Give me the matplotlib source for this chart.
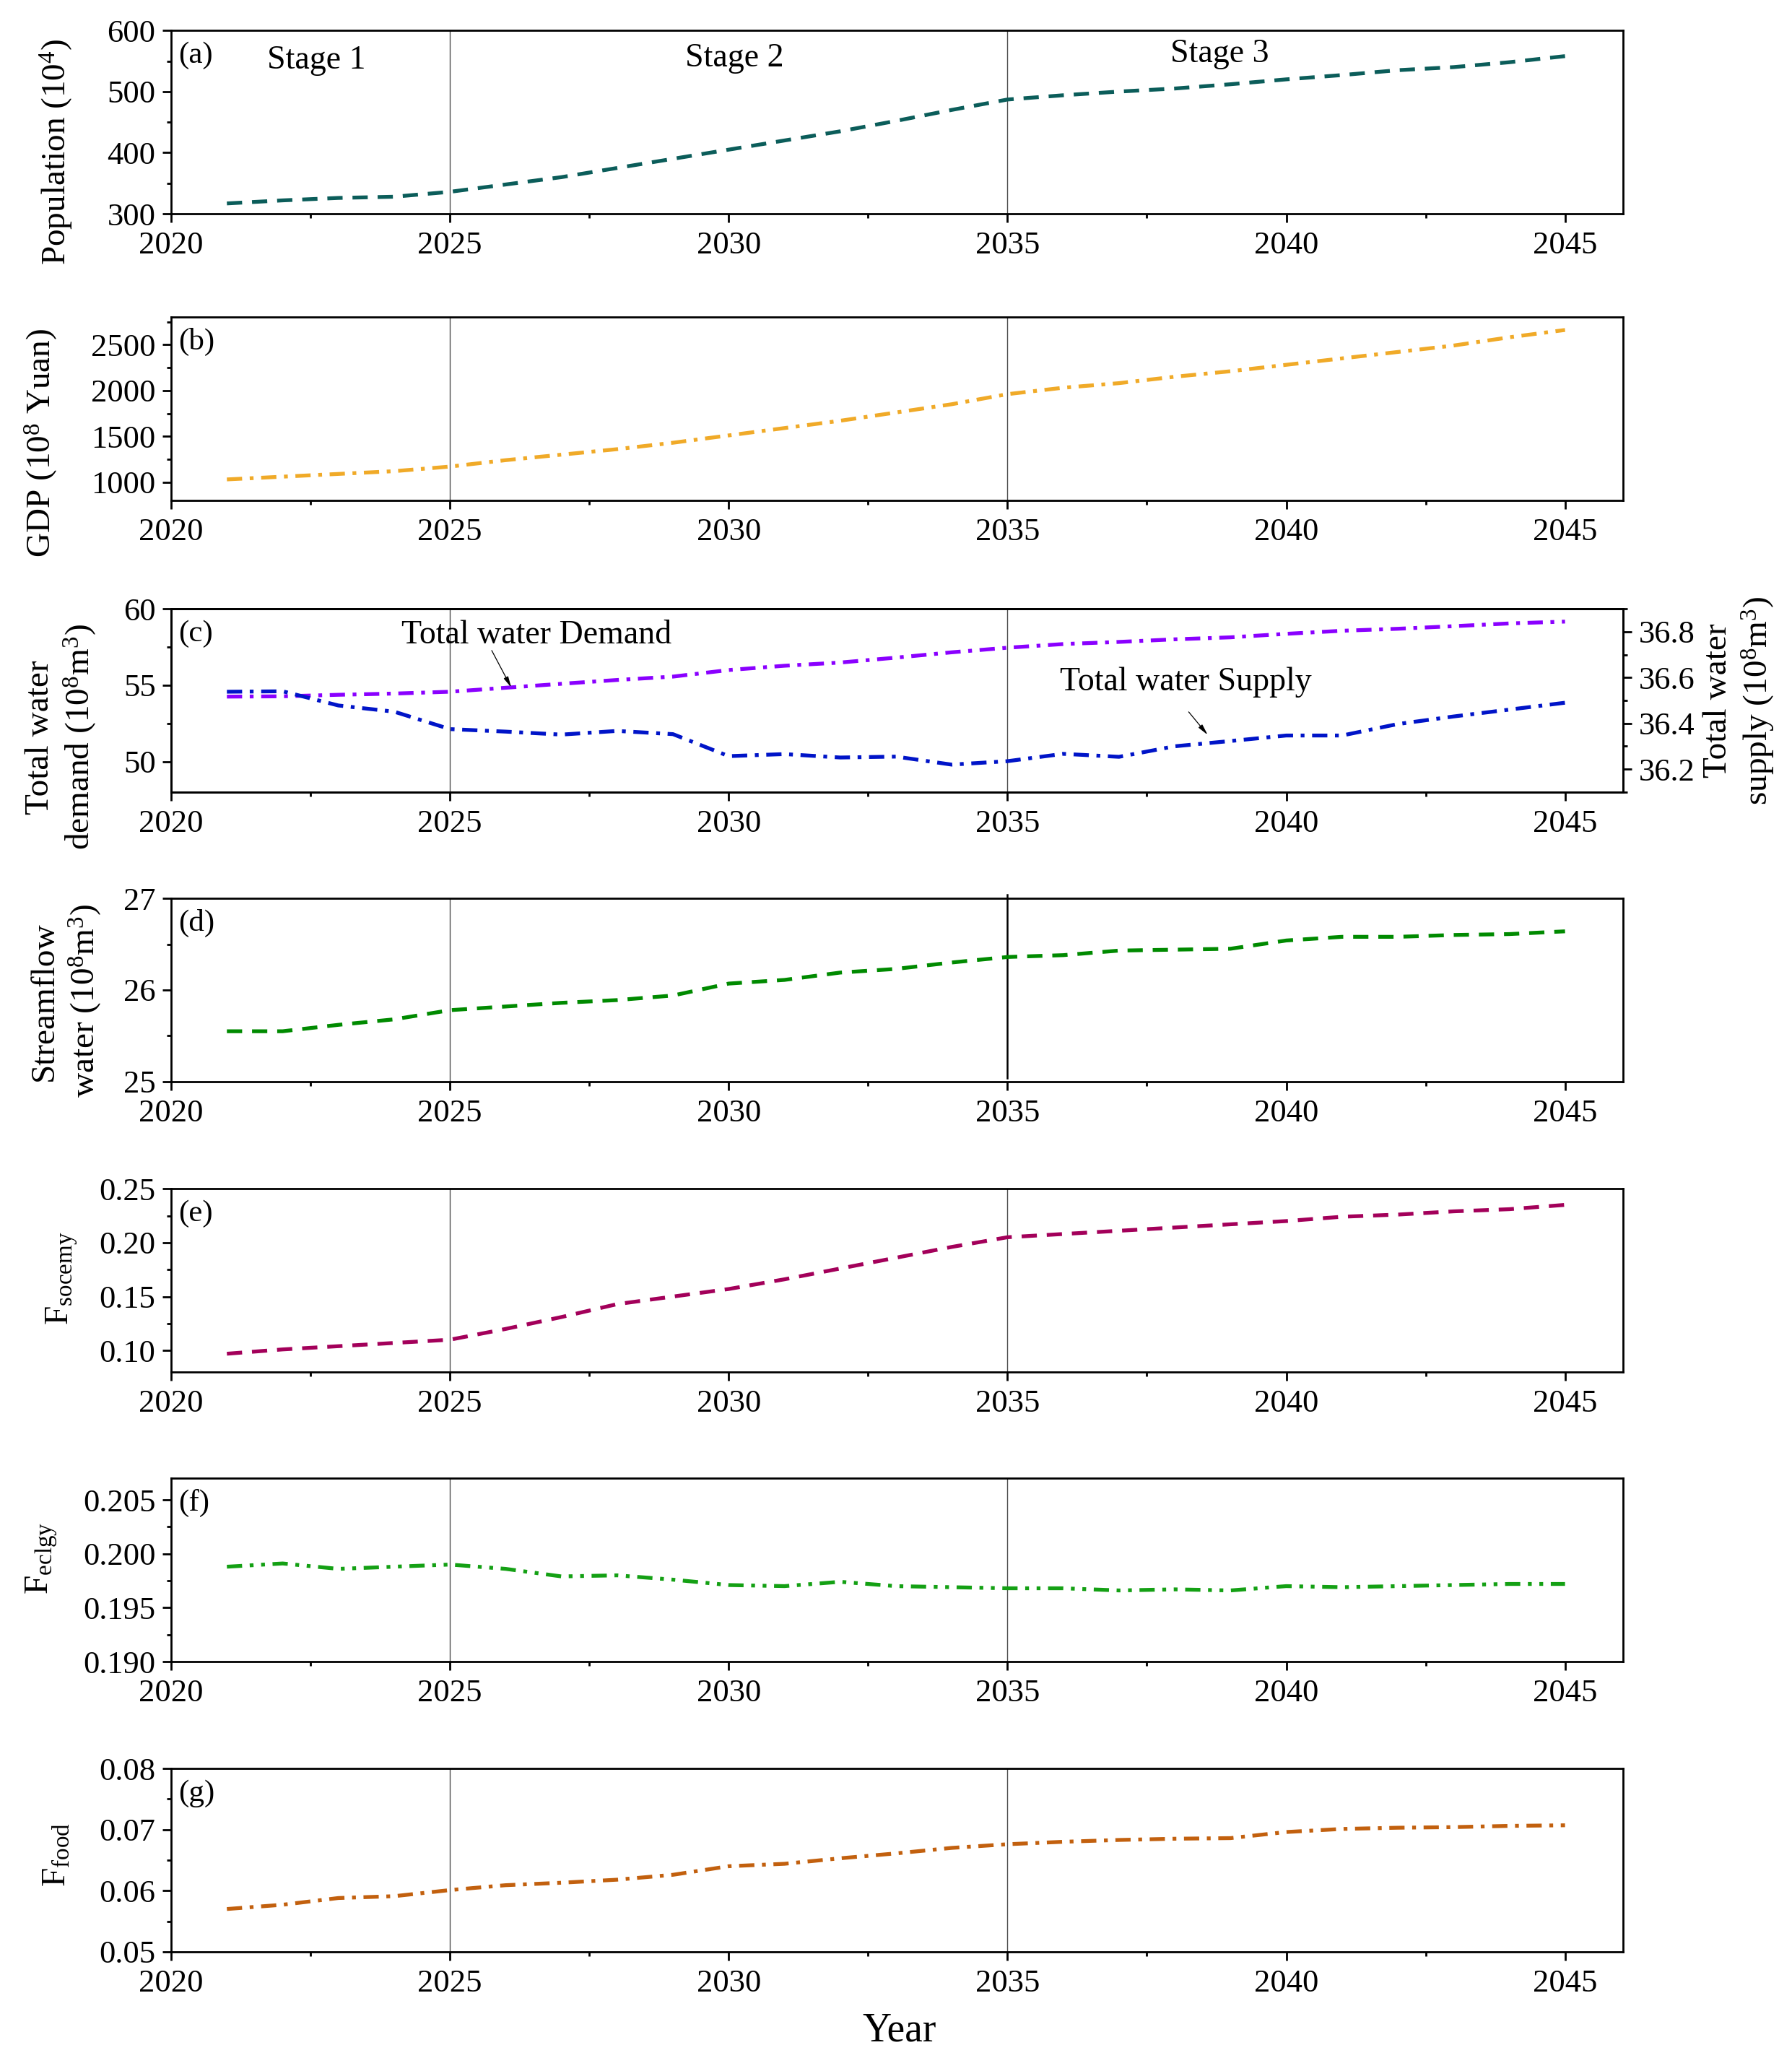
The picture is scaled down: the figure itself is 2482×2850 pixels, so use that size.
import numpy as np
import matplotlib
matplotlib.use("Agg")
import matplotlib.pyplot as plt
from matplotlib.ticker import MultipleLocator, FormatStrFormatter

plt.rcParams["font.family"] = ["Liberation Serif", "DejaVu Serif"]
plt.rcParams["mathtext.fontset"] = "custom"
plt.rcParams["mathtext.rm"] = "Liberation Serif"
plt.rcParams["mathtext.it"] = "Liberation Serif:italic"

years = list(range(2021, 2046))

population = [317, 322, 326, 328, 336, 348, 360, 375, 390, 405, 420, 435, 452,
              470, 487, 494, 500, 505, 512, 520, 527, 535, 540, 548, 558]
gdp = [1030, 1060, 1090, 1120, 1170, 1240, 1300, 1360, 1430, 1510, 1590, 1670, 1760,
       1850, 1960, 2030, 2080, 2150, 2210, 2280, 2350, 2420, 2490, 2580, 2660]
water_demand = [54.25, 54.27, 54.37, 54.45, 54.57, 54.83, 55.09, 55.34, 55.56, 55.99,
                56.27, 56.48, 56.80, 57.15, 57.45, 57.69, 57.83, 58.00, 58.13, 58.36,
                58.56, 58.69, 58.86, 59.04, 59.16]
water_supply = [36.538, 36.540, 36.478, 36.451, 36.375, 36.364, 36.351, 36.367, 36.353,
                36.257, 36.266, 36.251, 36.255, 36.220, 36.235, 36.267, 36.254, 36.300,
                36.323, 36.347, 36.347, 36.397, 36.430, 36.460, 36.490]
streamflow = [25.55, 25.55, 25.62, 25.68, 25.78, 25.82, 25.86, 25.89, 25.94, 26.07,
              26.11, 26.19, 26.23, 26.30, 26.36, 26.38, 26.43, 26.44, 26.45, 26.54,
              26.58, 26.58, 26.60, 26.61, 26.64]
f_socemy = [0.097, 0.101, 0.104, 0.107, 0.110, 0.120, 0.131, 0.143, 0.150, 0.157,
            0.166, 0.176, 0.186, 0.196, 0.205, 0.208, 0.211, 0.214, 0.217, 0.220,
            0.224, 0.226, 0.229, 0.231, 0.235]
f_eclgy = [0.1988, 0.1991, 0.1986, 0.1988, 0.1990, 0.1986, 0.1979, 0.1980, 0.1976,
           0.1971, 0.1970, 0.1974, 0.1970, 0.1969, 0.1968, 0.1968, 0.1966, 0.1967,
           0.1966, 0.1970, 0.1969, 0.1970, 0.1971, 0.1972, 0.1972]
f_food = [0.0570, 0.0577, 0.0588, 0.0591, 0.0601, 0.0609, 0.0613, 0.0618, 0.0626,
          0.0640, 0.0644, 0.0653, 0.0661, 0.0670, 0.0676, 0.0680, 0.0683, 0.0685,
          0.0686, 0.0696, 0.0701, 0.0703, 0.0704, 0.0706, 0.0707]

stage_labels = ["Stage 1", "Stage 2", "Stage 3"]
stage_x = [2022.6, 2030.1, 2038.8]
stage_y = [551, 555, 561]

TICK_FS = 32
LABEL_FS = 34

DASH = (0, (4, 2.6))
DASHDOT = (0, (4, 2, 1, 2))
DASHDOTDOT = (0, (4, 2, 1, 2, 1, 2))

fig = plt.figure(figsize=(24.82, 28.5), dpi=100)

left, width, height = 0.0955, 0.8102, 0.0891
bottoms = [0.8961, 0.7568, 0.6151, 0.4744, 0.3333, 0.1926, 0.0516]


def style_axis(ax, ylim, major, minor, fmt=None):
    ax.set_xlim(2020, 2046.04)
    ax.set_ylim(*ylim)
    ax.xaxis.set_major_locator(MultipleLocator(5))
    ax.xaxis.set_minor_locator(MultipleLocator(2.5))
    ax.yaxis.set_major_locator(MultipleLocator(major))
    ax.yaxis.set_minor_locator(MultipleLocator(minor))
    if fmt:
        ax.yaxis.set_major_formatter(FormatStrFormatter(fmt))
    ax.tick_params(which="major", direction="out", length=8.5, width=2,
                   labelsize=TICK_FS, pad=7)
    ax.tick_params(axis="x", which="major", pad=9)
    ax.tick_params(which="minor", direction="out", length=4, width=2)
    ax.tick_params(top=False, right=False, which="both")
    for s in ax.spines.values():
        s.set_linewidth(2)


def stage_lines(ax, strong=False):
    ax.axvline(2025, color="0.3", lw=1, zorder=1)
    if strong:
        ax.axvline(2035, ymin=0.02, ymax=1.02, color="k", lw=1.8, zorder=1, clip_on=False)
    else:
        ax.axvline(2035, color="0.3", lw=1, zorder=1)


def panel_tag(ax, tag):
    ax.text(0.005, 0.865, tag, transform=ax.transAxes, ha="left", va="center",
            fontsize=31)


axes = [fig.add_axes([left, b, width, height]) for b in bottoms]

# (a) population
ax = axes[0]
ax.plot(years, population, color="#0b5d5a", lw=3.8, ls=DASH)
style_axis(ax, (300, 600), 100, 50)
stage_lines(ax)
panel_tag(ax, "(a)")
for lab, sx, sy in zip(stage_labels, stage_x, stage_y):
    ax.text(sx, sy, lab, ha="center", va="center", fontsize=33)
ax.set_ylabel("Population (10$^4$)", fontsize=LABEL_FS)
ax.yaxis.set_label_coords(-0.066, 0.336)

# (b) GDP
ax = axes[1]
ax.plot(years, gdp, color="#f0aa28", lw=3.8, ls=DASHDOT)
style_axis(ax, (800, 2800), 500, 250)
stage_lines(ax)
panel_tag(ax, "(b)")
ax.set_ylabel("GDP (10$^8$ Yuan)", fontsize=LABEL_FS)
ax.yaxis.set_label_coords(-0.077, 0.313)

# (c) water demand / supply
ax = axes[2]
ax.plot(years, water_demand, color="#8a00ff", lw=3.8, ls=DASHDOT, zorder=3)
style_axis(ax, (48, 60), 5, 2.5)
stage_lines(ax)
panel_tag(ax, "(c)")
ax.set_ylabel("Total water\ndemand (10$^8$m$^3$)", fontsize=LABEL_FS, linespacing=1.22)
ax.yaxis.set_label_coords(-0.050, 0.30)
ax.text(2026.55, 58.25, "Total water Demand", ha="center", va="center", fontsize=33)
ax.annotate("", xy=(2026.1, 54.85), xytext=(2025.75, 57.27),
            arrowprops=dict(arrowstyle="-|>,head_length=0.9,head_width=0.2",
                            lw=0.9, color="k", shrinkA=0, shrinkB=0))
ax2 = ax.twinx()
ax2.plot(years, water_supply, color="#0014c8", lw=3.8, ls=DASHDOT, zorder=3)
ax2.set_ylim(36.1, 36.9)
ax2.yaxis.set_major_locator(MultipleLocator(0.2))
ax2.yaxis.set_minor_locator(MultipleLocator(0.1))
ax2.yaxis.set_major_formatter(FormatStrFormatter("%.1f"))
ax2.tick_params(which="major", direction="out", length=8.5, width=2,
                labelsize=TICK_FS, pad=7)
ax2.tick_params(which="minor", direction="out", length=4, width=2)
for s in ax2.spines.values():
    s.set_linewidth(2)
ax2.set_ylabel("Total water\nsupply (10$^8$m$^3$)", fontsize=LABEL_FS, linespacing=1.22)
ax2.yaxis.set_label_coords(1.055, 0.5)
ax2.text(2038.2, 36.578, "Total water Supply", ha="center", va="center", fontsize=33)
ax2.annotate("", xy=(2038.59, 36.35), xytext=(2038.25, 36.45),
             arrowprops=dict(arrowstyle="-|>,head_length=0.9,head_width=0.2",
                             lw=0.9, color="k", shrinkA=0, shrinkB=0))

# (d) streamflow
ax = axes[3]
ax.plot(years, streamflow, color="#008a00", lw=3.8, ls=DASH)
style_axis(ax, (25, 27), 1, 0.5)
stage_lines(ax, strong=True)
panel_tag(ax, "(d)")
ax.set_ylabel("Streamflow\nwater (10$^8$m$^3$)", fontsize=LABEL_FS, linespacing=1.22)
ax.yaxis.set_label_coords(-0.047, 0.44)

# (e) F socemy
ax = axes[4]
ax.plot(years, f_socemy, color="#a3005a", lw=3.8, ls=DASH)
style_axis(ax, (0.08, 0.25), 0.05, 0.025, "%.2f")
stage_lines(ax)
panel_tag(ax, "(e)")
ax.set_ylabel("F$_{\\rm socemy}$", fontsize=LABEL_FS)
ax.yaxis.set_label_coords(-0.063, 0.51)

# (f) F eclgy
ax = axes[5]
ax.plot(years, f_eclgy, color="#14a014", lw=3.8, ls=DASHDOTDOT)
style_axis(ax, (0.190, 0.207), 0.005, 0.0025, "%.3f")
stage_lines(ax)
panel_tag(ax, "(f)")
ax.set_ylabel("F$_{\\rm eclgy}$", fontsize=LABEL_FS)
ax.yaxis.set_label_coords(-0.077, 0.565)

# (g) F food
ax = axes[6]
ax.plot(years, f_food, color="#c2600e", lw=3.8, ls=DASHDOT)
style_axis(ax, (0.05, 0.08), 0.01, 0.005, "%.2f")
stage_lines(ax)
panel_tag(ax, "(g)")
ax.set_ylabel("F$_{\\rm food}$", fontsize=LABEL_FS)
ax.yaxis.set_label_coords(-0.068, 0.53)

fig.text(0.502, 0.013, "Year", ha="center", va="center", fontsize=40)

fig.savefig("out.png", dpi=100)
